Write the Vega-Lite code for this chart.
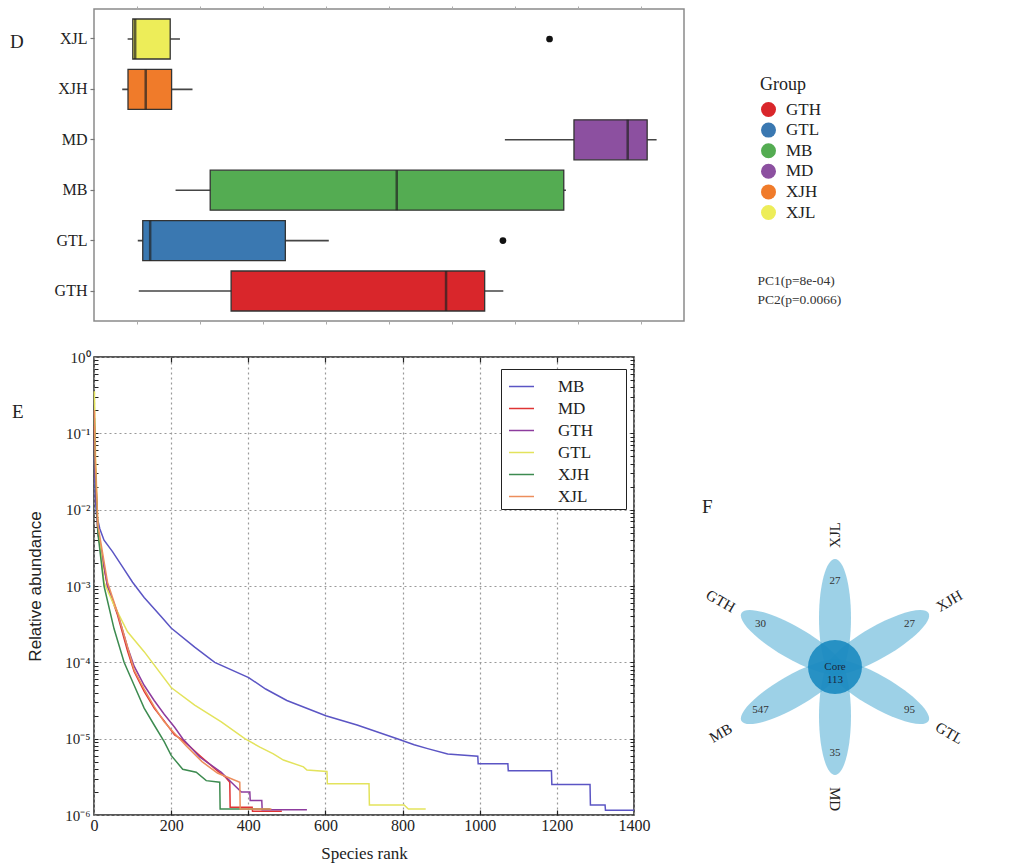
{
  "$schema": "https://vega.github.io/schema/vega-lite/v6.json",
  "padding": {"left": 9, "top": 4, "right": 5, "bottom": 5},
  "background": "white",
  "config": {
    "font": "Liberation Serif",
    "view": {"stroke": null},
    "axis": {"labelFont": "Liberation Serif", "titleFont": "Liberation Serif", "titleFontWeight": "normal", "labelColor": "#222", "titleColor": "#222"},
    "legend": {"labelFont": "Liberation Serif", "titleFont": "Liberation Serif", "titleFontWeight": "normal"},
    "title": {"font": "Liberation Serif", "fontWeight": "normal", "color": "#222"}
  },
  "bounds": "flush",
  "spacing": 36,
  "resolve": {"scale": {"color": "independent", "shape": "independent"}, "legend": {"color": "independent", "shape": "independent"}},
  "vconcat": [
    {
      "width": 590,
      "height": 312,
      "title": {"text": "D", "anchor": "start", "frame": "group", "dx": -84, "dy": 50, "fontSize": 19},
      "view": {"stroke": "#8a8a8a", "strokeWidth": 1.5},
      "data": {"values": [
        {"group": "XJL", "lower": -0.145, "q1": -0.063, "median": -0.025, "q3": 0.531, "upper": 0.686},
        {"group": "XJH", "lower": -0.231, "q1": -0.139, "median": 0.142, "q3": 0.553, "upper": 0.885},
        {"group": "MD", "lower": 5.845, "q1": 6.942, "median": 7.795, "q3": 8.104, "upper": 8.254},
        {"group": "MB", "lower": 0.616, "q1": 1.166, "median": 4.128, "q3": 6.78, "upper": 6.815},
        {"group": "GTL", "lower": 0.016, "q1": 0.095, "median": 0.213, "q3": 2.359, "upper": 3.049},
        {"group": "GTH", "lower": 0.032, "q1": 1.498, "median": 4.911, "q3": 5.524, "upper": 5.82}
      ]},
      "resolve": {"axis": {"x": "independent"}},
      "layer": [
        {
          "mark": {"type": "rule", "color": "#454545", "strokeWidth": 1.6},
          "encoding": {
            "y": {"field": "group", "type": "nominal",
              "scale": {"domain": ["XJL", "XJH", "MD", "MB", "GTL", "GTH"], "paddingInner": 0.206, "paddingOuter": 0.198},
              "axis": {"title": null, "labelFontSize": 16, "labelColor": "#222", "ticks": true, "tickSize": 4, "tickColor": "#777", "tickWidth": 1.2, "labelPadding": 3, "domain": false, "grid": false}},
            "x": {"field": "lower", "type": "quantitative",
              "scale": {"domain": [-0.679, 8.689], "nice": false, "zero": false},
              "axis": {"orient": "bottom", "values": [0, 1, 2, 3, 4, 5, 6, 7, 8], "labels": false, "tickSize": 3, "tickColor": "#aaa", "domain": false, "grid": false, "title": null}},
            "x2": {"field": "upper"}
          }
        },
        {
          "mark": {"type": "bar", "stroke": "#333", "strokeWidth": 1.3},
          "encoding": {
            "y": {"field": "group", "type": "nominal"},
            "x": {"field": "q1", "type": "quantitative",
              "axis": {"orient": "top", "values": [0, 1, 2, 3, 4, 5, 6, 7, 8], "labels": false, "tickSize": 3, "tickColor": "#aaa", "domain": false, "grid": false, "title": null}},
            "x2": {"field": "q3"},
            "color": {"field": "group", "type": "nominal",
              "scale": {"domain": ["GTH", "GTL", "MB", "MD", "XJH", "XJL"], "range": ["#d9262b", "#3a78b1", "#54ac52", "#8c50a0", "#f07b2a", "#eded59"]},
              "legend": {"orient": "none", "legendX": 666, "legendY": 67, "title": "Group", "titleFontSize": 18, "titleColor": "#222", "titlePadding": 7, "labelFontSize": 17, "labelColor": "#222", "symbolType": "circle", "symbolSize": 225, "symbolStrokeWidth": 0, "symbolOpacity": 1, "labelOffset": 9, "rowPadding": 2.6, "padding": 0}}
          }
        },
        {
          "mark": {"type": "tick", "color": "#222", "thickness": 2.5, "size": 40},
          "encoding": {
            "y": {"field": "group", "type": "nominal"},
            "x": {"field": "median", "type": "quantitative", "axis": null}
          }
        },
        {
          "data": {"values": [{"group": "XJL", "value": 6.554}, {"group": "GTL", "value": 5.814}]},
          "mark": {"type": "point", "filled": true, "color": "#111", "size": 45, "opacity": 1},
          "encoding": {
            "y": {"field": "group", "type": "nominal"},
            "x": {"field": "value", "type": "quantitative", "axis": null}
          }
        },
        {
          "data": {"values": [{"stat": "PC1(p=8e-04)"}, {"stat": "PC2(p=0.0066)"}]},
          "mark": {"type": "point", "opacity": 0},
          "encoding": {
            "shape": {"field": "stat", "type": "nominal",
              "legend": {"orient": "none", "legendX": 650, "legendY": 265, "title": null, "labelFontSize": 13.5, "labelColor": "#333", "symbolSize": 0, "symbolOpacity": 0, "labelOffset": 0, "rowPadding": 4.5, "padding": 0}}
          }
        }
      ]
    },
    {
      "hconcat": [
        {
          "width": 540,
          "height": 458,
          "title": {"text": "E", "anchor": "start", "frame": "group", "dx": -82, "dy": 76, "fontSize": 19},
          "view": {"stroke": "#222", "strokeWidth": 1.5},
          "resolve": {"axis": {"x": "independent", "y": "independent"}},
          "layer": [
            {
              "data": {"values": [
                {"sample": "MB", "rank": 1, "abundance": 0.0501},
                {"sample": "MB", "rank": 3, "abundance": 0.0158},
                {"sample": "MB", "rank": 6, "abundance": 0.00891},
                {"sample": "MB", "rank": 15, "abundance": 0.00562},
                {"sample": "MB", "rank": 26, "abundance": 0.00398},
                {"sample": "MB", "rank": 48, "abundance": 0.00282},
                {"sample": "MB", "rank": 74, "abundance": 0.00178},
                {"sample": "MB", "rank": 100, "abundance": 0.00112},
                {"sample": "MB", "rank": 130, "abundance": 0.000708},
                {"sample": "MB", "rank": 174, "abundance": 0.000398},
                {"sample": "MB", "rank": 200, "abundance": 0.000282},
                {"sample": "MB", "rank": 261, "abundance": 0.000158},
                {"sample": "MB", "rank": 313, "abundance": 0.0001},
                {"sample": "MB", "rank": 401, "abundance": 0.0000631},
                {"sample": "MB", "rank": 445, "abundance": 0.0000447},
                {"sample": "MB", "rank": 500, "abundance": 0.0000316},
                {"sample": "MB", "rank": 601, "abundance": 0.00002},
                {"sample": "MB", "rank": 682, "abundance": 0.0000151},
                {"sample": "MB", "rank": 786, "abundance": 0.00001},
                {"sample": "MB", "rank": 830, "abundance": 0.00000832},
                {"sample": "MB", "rank": 865, "abundance": 0.00000741},
                {"sample": "MB", "rank": 917, "abundance": 0.00000631},
                {"sample": "MB", "rank": 995, "abundance": 0.00000589},
                {"sample": "MB", "rank": 996, "abundance": 0.00000468},
                {"sample": "MB", "rank": 1073, "abundance": 0.00000468},
                {"sample": "MB", "rank": 1074, "abundance": 0.0000038},
                {"sample": "MB", "rank": 1186, "abundance": 0.0000038},
                {"sample": "MB", "rank": 1187, "abundance": 0.00000251},
                {"sample": "MB", "rank": 1286, "abundance": 0.00000251},
                {"sample": "MB", "rank": 1287, "abundance": 0.00000135},
                {"sample": "MB", "rank": 1325, "abundance": 0.00000135},
                {"sample": "MB", "rank": 1326, "abundance": 0.00000115},
                {"sample": "MB", "rank": 1400, "abundance": 0.00000115},
                {"sample": "MD", "rank": 1, "abundance": 0.126},
                {"sample": "MD", "rank": 3, "abundance": 0.0398},
                {"sample": "MD", "rank": 10, "abundance": 0.00501},
                {"sample": "MD", "rank": 35, "abundance": 0.001},
                {"sample": "MD", "rank": 61, "abundance": 0.000417},
                {"sample": "MD", "rank": 87, "abundance": 0.000141},
                {"sample": "MD", "rank": 104, "abundance": 0.0000759},
                {"sample": "MD", "rank": 130, "abundance": 0.0000417},
                {"sample": "MD", "rank": 156, "abundance": 0.0000251},
                {"sample": "MD", "rank": 182, "abundance": 0.000017},
                {"sample": "MD", "rank": 209, "abundance": 0.0000112},
                {"sample": "MD", "rank": 230, "abundance": 0.00000955},
                {"sample": "MD", "rank": 274, "abundance": 0.00000603},
                {"sample": "MD", "rank": 317, "abundance": 0.00000389},
                {"sample": "MD", "rank": 340, "abundance": 0.00000316},
                {"sample": "MD", "rank": 352, "abundance": 0.00000269},
                {"sample": "MD", "rank": 353, "abundance": 0.00000126},
                {"sample": "MD", "rank": 410, "abundance": 0.00000126},
                {"sample": "MD", "rank": 411, "abundance": 0.00000112},
                {"sample": "MD", "rank": 487, "abundance": 0.00000112},
                {"sample": "GTH", "rank": 1, "abundance": 0.0794},
                {"sample": "GTH", "rank": 3, "abundance": 0.0316},
                {"sample": "GTH", "rank": 10, "abundance": 0.00501},
                {"sample": "GTH", "rank": 35, "abundance": 0.001},
                {"sample": "GTH", "rank": 61, "abundance": 0.000447},
                {"sample": "GTH", "rank": 87, "abundance": 0.000158},
                {"sample": "GTH", "rank": 104, "abundance": 0.0000891},
                {"sample": "GTH", "rank": 130, "abundance": 0.0000501},
                {"sample": "GTH", "rank": 156, "abundance": 0.0000316},
                {"sample": "GTH", "rank": 182, "abundance": 0.0000209},
                {"sample": "GTH", "rank": 209, "abundance": 0.0000141},
                {"sample": "GTH", "rank": 230, "abundance": 0.00001},
                {"sample": "GTH", "rank": 274, "abundance": 0.00000575},
                {"sample": "GTH", "rank": 330, "abundance": 0.00000363},
                {"sample": "GTH", "rank": 356, "abundance": 0.00000269},
                {"sample": "GTH", "rank": 382, "abundance": 0.000002},
                {"sample": "GTH", "rank": 404, "abundance": 0.000002},
                {"sample": "GTH", "rank": 405, "abundance": 0.00000155},
                {"sample": "GTH", "rank": 435, "abundance": 0.00000155},
                {"sample": "GTH", "rank": 436, "abundance": 0.00000117},
                {"sample": "GTH", "rank": 552, "abundance": 0.00000117},
                {"sample": "GTL", "rank": 1, "abundance": 0.355},
                {"sample": "GTL", "rank": 4, "abundance": 0.0501},
                {"sample": "GTL", "rank": 10, "abundance": 0.00631},
                {"sample": "GTL", "rank": 26, "abundance": 0.00112},
                {"sample": "GTL", "rank": 52, "abundance": 0.000562},
                {"sample": "GTL", "rank": 87, "abundance": 0.000251},
                {"sample": "GTL", "rank": 130, "abundance": 0.000138},
                {"sample": "GTL", "rank": 200, "abundance": 0.0000468},
                {"sample": "GTL", "rank": 261, "abundance": 0.0000275},
                {"sample": "GTL", "rank": 330, "abundance": 0.0000166},
                {"sample": "GTL", "rank": 391, "abundance": 0.00001},
                {"sample": "GTL", "rank": 430, "abundance": 0.00000776},
                {"sample": "GTL", "rank": 465, "abundance": 0.00000631},
                {"sample": "GTL", "rank": 491, "abundance": 0.00000525},
                {"sample": "GTL", "rank": 543, "abundance": 0.00000427},
                {"sample": "GTL", "rank": 552, "abundance": 0.00000389},
                {"sample": "GTL", "rank": 604, "abundance": 0.00000372},
                {"sample": "GTL", "rank": 605, "abundance": 0.00000257},
                {"sample": "GTL", "rank": 713, "abundance": 0.00000257},
                {"sample": "GTL", "rank": 714, "abundance": 0.00000135},
                {"sample": "GTL", "rank": 804, "abundance": 0.00000135},
                {"sample": "GTL", "rank": 815, "abundance": 0.0000012},
                {"sample": "GTL", "rank": 860, "abundance": 0.0000012},
                {"sample": "XJH", "rank": 1, "abundance": 0.158},
                {"sample": "XJH", "rank": 3, "abundance": 0.0398},
                {"sample": "XJH", "rank": 10, "abundance": 0.00501},
                {"sample": "XJH", "rank": 26, "abundance": 0.001},
                {"sample": "XJH", "rank": 52, "abundance": 0.000275},
                {"sample": "XJH", "rank": 78, "abundance": 0.0001},
                {"sample": "XJH", "rank": 104, "abundance": 0.0000501},
                {"sample": "XJH", "rank": 130, "abundance": 0.0000251},
                {"sample": "XJH", "rank": 156, "abundance": 0.0000151},
                {"sample": "XJH", "rank": 182, "abundance": 0.00000912},
                {"sample": "XJH", "rank": 200, "abundance": 0.00000603},
                {"sample": "XJH", "rank": 230, "abundance": 0.00000398},
                {"sample": "XJH", "rank": 265, "abundance": 0.00000363},
                {"sample": "XJH", "rank": 291, "abundance": 0.00000282},
                {"sample": "XJH", "rank": 326, "abundance": 0.00000269},
                {"sample": "XJH", "rank": 327, "abundance": 0.0000012},
                {"sample": "XJH", "rank": 456, "abundance": 0.0000012},
                {"sample": "XJL", "rank": 1, "abundance": 0.2},
                {"sample": "XJL", "rank": 3, "abundance": 0.0501},
                {"sample": "XJL", "rank": 10, "abundance": 0.00631},
                {"sample": "XJL", "rank": 35, "abundance": 0.00112},
                {"sample": "XJL", "rank": 61, "abundance": 0.000447},
                {"sample": "XJL", "rank": 87, "abundance": 0.000158},
                {"sample": "XJL", "rank": 104, "abundance": 0.0000794},
                {"sample": "XJL", "rank": 130, "abundance": 0.0000447},
                {"sample": "XJL", "rank": 156, "abundance": 0.0000263},
                {"sample": "XJL", "rank": 182, "abundance": 0.0000166},
                {"sample": "XJL", "rank": 209, "abundance": 0.0000117},
                {"sample": "XJL", "rank": 240, "abundance": 0.00000794},
                {"sample": "XJL", "rank": 280, "abundance": 0.00000501},
                {"sample": "XJL", "rank": 320, "abundance": 0.00000355},
                {"sample": "XJL", "rank": 378, "abundance": 0.00000269},
                {"sample": "XJL", "rank": 379, "abundance": 0.0000012},
                {"sample": "XJL", "rank": 460, "abundance": 0.0000012}
              ]},
              "mark": {"type": "line", "strokeWidth": 1.5},
              "encoding": {
                "x": {"field": "rank", "type": "quantitative",
                  "scale": {"domain": [0, 1400], "nice": false, "zero": false},
                  "axis": {"values": [0, 200, 400, 600, 800, 1000, 1200, 1400], "format": "d", "title": "Species rank", "titleFontSize": 17, "titlePadding": 12, "labelFontSize": 16, "labelPadding": 2, "ticks": false, "domain": false, "grid": true, "gridDash": [2, 3], "gridColor": "#999", "gridWidth": 1.2, "labelFlush": false}},
                "y": {"field": "abundance", "type": "quantitative",
                  "scale": {"type": "log", "domain": [0.000001, 1], "nice": false},
                  "axis": {"values": [0.000001, 0.00001, 0.0001, 0.001, 0.01, 0.1, 1], "labelExpr": "datum.value >= 0.5 ? '10⁰' : '10⁻' + ['⁰','¹','²','³','⁴','⁵','⁶'][round(-log(datum.value)/LN10)]", "title": "Relative abundance", "titleFont": "Liberation Sans", "titleFontSize": 17, "titlePadding": 20, "labelFontSize": 15, "labelPadding": 4, "ticks": false, "domain": false, "grid": true, "gridDash": [2, 3], "gridColor": "#999", "gridWidth": 1.2}},
                "color": {"field": "sample", "type": "nominal",
                  "scale": {"domain": ["MB", "MD", "GTH", "GTL", "XJH", "XJL"], "range": ["#5b55c4", "#df3434", "#8d3c9e", "#e3e35c", "#3d8b50", "#ec8e5c"]},
                  "legend": {"orient": "none", "legendX": 407, "legendY": 12, "title": null, "strokeColor": "#222", "fillColor": "white", "padding": 4, "symbolOffset": 3, "symbolType": "stroke", "symbolSize": 625, "symbolStrokeWidth": 1.5, "labelFontSize": 17, "labelColor": "#222", "labelOffset": 23, "rowPadding": 0, "labelExpr": "datum.label + '\u2003\u2002\u2009\u200b'"}}
              }
            },
            {
              "data": {"values": []},
              "mark": "point",
              "encoding": {
                "x": {"field": "rank", "type": "quantitative",
                  "scale": {"domain": [0, 1400], "nice": false, "zero": false},
                  "axis": {"orient": "top", "values": [200, 400, 600, 800, 1000, 1200], "labels": false, "tickSize": -5, "tickColor": "#222", "tickWidth": 1.2, "domain": false, "grid": false, "title": null}},
                "y": {"field": "abundance", "type": "quantitative",
                  "scale": {"type": "log", "domain": [0.000001, 1], "nice": false},
                  "axis": {"orient": "right", "values": [0.000002, 0.000003, 0.000004, 0.000005, 0.000006, 0.000007, 0.000008, 0.000009, 0.00001, 0.00002, 0.00003, 0.00004, 0.00005, 0.00006, 0.00007, 0.00008, 0.00009, 0.0001, 0.0002, 0.0003, 0.0004, 0.0005, 0.0006, 0.0007, 0.0008, 0.0009, 0.001, 0.002, 0.003, 0.004, 0.005, 0.006, 0.007, 0.008, 0.009, 0.01, 0.02, 0.03, 0.04, 0.05, 0.06, 0.07, 0.08, 0.09, 0.1, 0.2, 0.3, 0.4, 0.5, 0.6, 0.7, 0.8, 0.9], "labels": false, "tickSize": -4, "tickColor": "#222", "tickWidth": 1, "domain": false, "grid": false, "title": null}}
              }
            },
            {
              "data": {"values": []},
              "mark": "point",
              "encoding": {
                "x": {"field": "rank", "type": "quantitative",
                  "scale": {"domain": [0, 1400], "nice": false, "zero": false},
                  "axis": {"orient": "bottom", "values": [200, 400, 600, 800, 1000, 1200], "labels": false, "tickSize": -5, "tickColor": "#222", "tickWidth": 1.2, "domain": false, "grid": false, "title": null}},
                "y": {"field": "abundance", "type": "quantitative",
                  "scale": {"type": "log", "domain": [0.000001, 1], "nice": false},
                  "axis": {"orient": "left", "values": [0.000002, 0.000003, 0.000004, 0.000005, 0.000006, 0.000007, 0.000008, 0.000009, 0.00001, 0.00002, 0.00003, 0.00004, 0.00005, 0.00006, 0.00007, 0.00008, 0.00009, 0.0001, 0.0002, 0.0003, 0.0004, 0.0005, 0.0006, 0.0007, 0.0008, 0.0009, 0.001, 0.002, 0.003, 0.004, 0.005, 0.006, 0.007, 0.008, 0.009, 0.01, 0.02, 0.03, 0.04, 0.05, 0.06, 0.07, 0.08, 0.09, 0.1, 0.2, 0.3, 0.4, 0.5, 0.6, 0.7, 0.8, 0.9], "labels": false, "tickSize": -4, "tickColor": "#222", "tickWidth": 1, "domain": false, "grid": false, "title": null}}
              }
            }
          ]
        },
        {
          "width": 260,
          "height": 458,
          "title": {"text": "F", "anchor": "start", "frame": "group", "dx": -3, "dy": 164, "fontSize": 19},
          "layer": [
            {
              "data": {"values": [
                {"set": "XJL", "count": 27, "angle": 0},
                {"set": "XJH", "count": 27, "angle": 60},
                {"set": "GTL", "count": 95, "angle": 120},
                {"set": "MD", "count": 35, "angle": 180},
                {"set": "MB", "count": 547, "angle": 240},
                {"set": "GTH", "count": 30, "angle": 300}
              ]},
              "mark": {"type": "point", "shape": "M0,0.093A0.148,0.546,0,1,1,0,-1A0.148,0.546,0,1,1,0,0.093Z", "size": 46656, "filled": true, "color": "#3ba3d0", "opacity": 0.5, "strokeWidth": 0},
              "encoding": {
                "x": {"datum": 0, "type": "quantitative", "scale": {"domain": [-130, 130], "nice": false, "zero": false}, "axis": null},
                "y": {"datum": 0, "type": "quantitative", "scale": {"domain": [-148, 310], "nice": false, "zero": false}, "axis": null},
                "angle": {"field": "angle", "type": "quantitative", "scale": null}
              }
            },
            {
              "data": {"values": [{"name": "Core", "count": 113}]},
              "mark": {"type": "point", "shape": "circle", "size": 2916, "filled": true, "color": "#1b8ac0", "opacity": 0.9, "strokeWidth": 0},
              "encoding": {
                "x": {"datum": 0, "type": "quantitative", "scale": {"domain": [-130, 130], "nice": false, "zero": false}, "axis": null},
                "y": {"datum": 0, "type": "quantitative", "scale": {"domain": [-148, 310], "nice": false, "zero": false}, "axis": null}
              }
            },
            {
              "data": {"values": [{"name": "Core", "count": 113}]},
              "transform": [{"calculate": "datum.name + '\\n' + datum.count", "as": "coreText"}],
              "mark": {"type": "text", "fontSize": 11, "color": "#1a2a40", "lineBreak": "\n", "baseline": "middle", "lineHeight": 13},
              "encoding": {
                "x": {"datum": 0, "type": "quantitative", "scale": {"domain": [-130, 130], "nice": false, "zero": false}, "axis": null},
                "y": {"datum": 0, "type": "quantitative", "scale": {"domain": [-148, 310], "nice": false, "zero": false}, "axis": null},
                "text": {"field": "coreText"}
              }
            },
            {
              "data": {"values": [
                {"set": "XJL", "count": 27, "angle": 0},
                {"set": "XJH", "count": 27, "angle": 60},
                {"set": "GTL", "count": 95, "angle": 120},
                {"set": "MD", "count": 35, "angle": 180},
                {"set": "MB", "count": 547, "angle": 240},
                {"set": "GTH", "count": 30, "angle": 300}
              ]},
              "transform": [
                {"calculate": "86 * sin(datum.angle * PI / 180)", "as": "nx"},
                {"calculate": "86 * cos(datum.angle * PI / 180)", "as": "ny"}
              ],
              "mark": {"type": "text", "fontSize": 11, "color": "#333"},
              "encoding": {
                "x": {"field": "nx", "type": "quantitative", "scale": {"domain": [-130, 130], "nice": false, "zero": false}, "axis": null},
                "y": {"field": "ny", "type": "quantitative", "scale": {"domain": [-148, 310], "nice": false, "zero": false}, "axis": null},
                "text": {"field": "count"}
              }
            },
            {
              "data": {"values": [
                {"set": "XJL", "count": 27, "angle": 0},
                {"set": "XJH", "count": 27, "angle": 60},
                {"set": "GTL", "count": 95, "angle": 120},
                {"set": "MD", "count": 35, "angle": 180},
                {"set": "MB", "count": 547, "angle": 240},
                {"set": "GTH", "count": 30, "angle": 300}
              ]},
              "transform": [
                {"calculate": "132 * sin(datum.angle * PI / 180)", "as": "lx"},
                {"calculate": "132 * cos(datum.angle * PI / 180)", "as": "ly"},
                {"calculate": "datum.angle <= 180 ? datum.angle - 90 : datum.angle - 270", "as": "la"}
              ],
              "mark": {"type": "text", "fontSize": 15, "color": "#222", "baseline": "middle", "align": "center"},
              "encoding": {
                "x": {"field": "lx", "type": "quantitative", "scale": {"domain": [-130, 130], "nice": false, "zero": false}, "axis": null},
                "y": {"field": "ly", "type": "quantitative", "scale": {"domain": [-148, 310], "nice": false, "zero": false}, "axis": null},
                "angle": {"field": "la", "type": "quantitative", "scale": null},
                "text": {"field": "set"}
              }
            }
          ]
        }
      ],
      "spacing": 71,
      "bounds": "flush"
    }
  ]
}
